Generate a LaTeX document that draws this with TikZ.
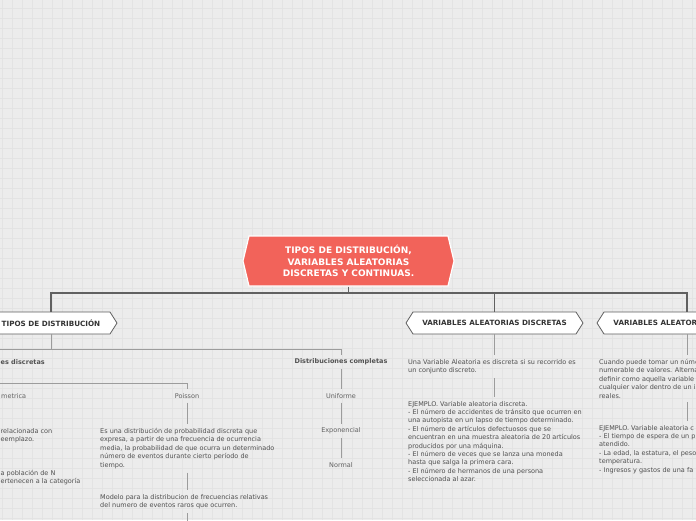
\documentclass[tikz,border=0pt]{standalone}
\usepackage{fontspec}
\setmainfont{DejaVu Sans}
\usetikzlibrary{shapes.symbols}

\definecolor{rootred}{HTML}{F2635A}
\definecolor{paper}{HTML}{ECECEC}
\definecolor{gridgray}{HTML}{E3E3E3}
\definecolor{trunkgray}{HTML}{606060}
\definecolor{branchgray}{HTML}{9C9C9C}
\definecolor{titlegray}{HTML}{333333}
\definecolor{textgray}{HTML}{505050}

\begin{document}
\begin{tikzpicture}[x=1pt, y=-1pt,
  root/.style={signal, signal to=west and east, signal pointer angle=153, fill=rootred, draw=white, line width=1.2pt, text=white, font=\fontsize{9}{11.5}\selectfont\bfseries, align=center, minimum width=211, minimum height=50},
  topic/.style={signal, signal to=west and east, signal pointer angle=115, fill=white, draw=trunkgray, line width=0.8pt, text=titlegray, font=\fontsize{7.2}{9}\selectfont\bfseries, minimum height=22},
  sub/.style={font=\fontsize{6.5}{8.4}\selectfont\bfseries, text=titlegray!85, inner xsep=1, inner ysep=4},
  leaf/.style={font=\fontsize{6.5}{8.4}\selectfont, text=textgray!90, inner xsep=1, inner ysep=4},
  note/.style={font=\fontsize{6.5}{8.4}\selectfont, text=textgray, align=left, anchor=north west, inner xsep=0, inner ysep=4},
  trunk/.style={draw=trunkgray, line width=1.4pt},
  branch/.style={draw=branchgray, line width=0.9pt},
  gridline/.style={draw=gridgray, line width=0.6pt}]

  \useasboundingbox (0,0) rectangle (696,520);
  \clip (0,0) rectangle (696,520);

  % paper and grid
  \fill[paper] (0,0) rectangle (696,520);
  \foreach \gx in {2,12,...,692} \draw[gridline] (\gx,0) -- (\gx,520);
  \foreach \gy in {8,18,...,518} \draw[gridline] (0,\gy) -- (696,\gy);

  % central topic
  \node[root] (root) at (348.5,261) {TIPOS DE DISTRIBUCIÓN,\\VARIABLES ALEATORIAS\\DISCRETAS Y CONTINUAS.};

  % main topics
  \node[topic, minimum width=132] (tipos) at (51,323) {TIPOS DE DISTRIBUCIÓN};
  \node[topic, minimum width=177] (vdisc) at (494.5,323) {VARIABLES ALEATORIAS DISCRETAS};
  \node[topic, minimum width=180] (vcont) at (687,323) {VARIABLES ALEATORIAS CONTINUAS};

  % tipos de distribucion
  \node[sub, anchor=west] (ddisc) at (-0.5,362) {es discretas};
  \coordinate (ddisc-top) at (-6,356);
  \coordinate (ddisc-bot) at (-6,370);
  \node[sub] (dcomp) at (341,362) {Distribuciones completas};
  \node[leaf, anchor=west] (hiper) at (0,396) {metrica};
  \node[leaf] (poisson) at (187,396) {Poisson};
  \node[leaf] (unif) at (341,396) {Uniforme};
  \node[leaf] (expo) at (341,431) {Exponencial};
  \node[leaf] (normal) at (341,465) {Normal};
  \node[note] (hiperdesc) at (0.5,424) {relacionada con\\eemplazo.};
  \node[note] (hiperpob) at (0.5,466) {a población de N\\ertenecen a la categoría};
  \node[note] (poisdesc) at (100,424) {Es una distribución de probabilidad discreta que\\expresa, a partir de una frecuencia de ocurrencia\\media, la probabilidad de que ocurra un determinado\\número de eventos durante cierto período de\\tiempo.};
  \node[note] (poismod) at (100,490) {Modelo para la distribucion de frecuencias relativas\\del numero de eventos raros que ocurren.};
  \coordinate (poisnext) at (187,530);

  % variables discretas
  \node[note] (vdesc) at (408,355) {Una Variable Aleatoria es discreta si su recorrido es\\un conjunto discreto.};
  \node[note] (vejem) at (408,397) {EJEMPLO. Variable aleatoria discreta.\\- El número de accidentes de tránsito que ocurren en\\una autopista en un lapso de tiempo determinado.\\- El número de artículos defectuosos que se\\encuentran en una muestra aleatoria de 20 artículos\\producidos por una máquina.\\- El número de veces que se lanza una moneda\\hasta que salga la primera cara.\\- El número de hermanos de una persona\\seleccionada al azar.};

  % variables continuas
  \node[note] (cdesc) at (599,355) {Cuando puede tomar un núme\\numerable de valores. Alterna\\definir como aquella variable\\cualquier valor dentro de un i\\reales.};
  \node[note] (cejem) at (599,421) {EJEMPLO. Variable aleatoria c\\- El tiempo de espera de un p\\atendido.\\- La edad, la estatura, el peso\\temperatura.\\- Ingresos y gastos de una fa};

  % root to main topics
  \coordinate (bus) at (348.5,293);
  \draw[trunk] (root.south) -- (bus);
  \draw[trunk] (bus) -| (tipos.north);
  \draw[trunk] (bus) -| (vdisc.north);
  \draw[trunk] (bus) -| (vcont.north);

  % tipos branches
  \draw[branch] (tipos.south) -- ++(0,15) -| (dcomp.north);
  \draw[branch] (tipos.south) -- ++(0,15) -| (ddisc-top);
  \draw[branch] (ddisc-bot) -- ++(0,13) -| (poisson.north);
  \draw[branch] (dcomp.south) -- (unif.north);
  \draw[branch] (unif.south) -- (expo.north);
  \draw[branch] (expo.south) -- (normal.north);
  \draw[branch] (poisson.south) -- (poisson.south |- poisdesc.north);
  \draw[branch] (poisson.south |- poisdesc.south) -- (poisson.south |- poismod.north);
  \draw[branch] (poisson.south |- poismod.south) -- (poisnext);

  % variables branches
  \draw[branch] (vdisc.south) -- (vdisc.south |- vdesc.north);
  \draw[branch] (vdisc.south |- vdesc.south) -- (vdisc.south |- vejem.north);
  \draw[branch] (vcont.south) -- (vcont.south |- cdesc.north);
  \draw[branch] (vcont.south |- cdesc.south) -- (vcont.south |- cejem.north);
\end{tikzpicture}
\end{document}
